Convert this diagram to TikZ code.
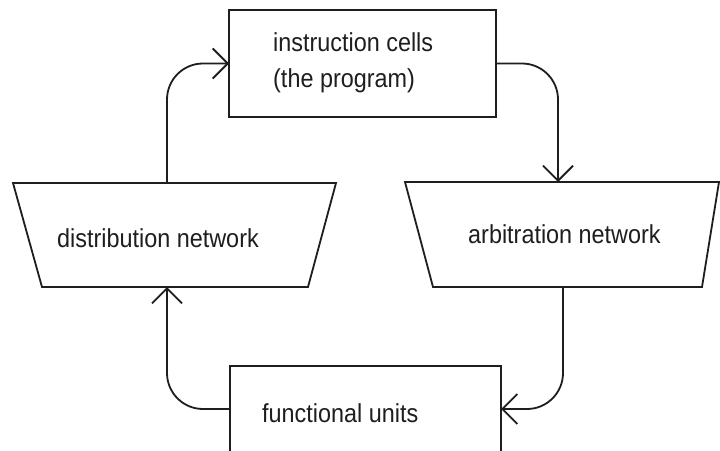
\documentclass[tikz,border=0pt]{standalone}
\usepackage{fontspec}
\setmainfont{Liberation Sans}[FakeStretch=0.9]
\usetikzlibrary{arrows.meta}
\definecolor{ink}{HTML}{1E1E1E}
\begin{document}
\begin{tikzpicture}[x=1pt,y=-1pt,
  box/.style={draw=ink, line width=1.8pt, rectangle, inner sep=0pt, outer sep=0pt},
  area/.style={rectangle, inner sep=0pt, outer sep=0pt},
  shapeline/.style={draw=ink, line width=1.8pt, line join=miter},
  conn/.style={draw=ink, line width=1.8pt, rounded corners=36pt, -{Straight Barb[length=15pt,width=30pt]}},
  txt/.style={text=ink, inner sep=0pt, font=\fontsize{26}{36}\selectfont}]
\fill[white] (0,0) rectangle (720,450);
\useasboundingbox (0,0) rectangle (720,450);
% blocks
\node[box, minimum width=267pt, minimum height=107pt] (cells) at (362.5,63.5) {};
\node[box, minimum width=271pt, minimum height=86pt] (units) at (365.5,409) {};
\node[area, minimum width=323pt, minimum height=104pt] (dist) at (174.5,235) {};
\node[area, minimum width=314pt, minimum height=105pt] (arb) at (562,234.5) {};
\draw[shapeline] (dist.north west) -- (dist.north east) -- ([xshift=-28pt]dist.south east) -- ([xshift=29pt]dist.south west) -- cycle;
\draw[shapeline] (arb.north west) -- (arb.north east) -- ([xshift=-17pt]arb.south east) -- ([xshift=28pt]arb.south west) -- cycle;
% texts
\node[txt, anchor=west, align=left] (cellsT) at (273,62.5) {instruction cells\\(the program)};
\node[txt, anchor=base west] (distT) at (57,247) {distribution network};
\node[txt, anchor=base west] (arbT) at (468,243) {arbitration network};
\node[txt, anchor=base west] (unitsT) at (262,422) {functional units};
% connectors
\draw[conn] ([xshift=-7.5pt]dist.north) |- (cells.west);
\draw[conn] (cells.east) -| ([xshift=-4pt]arb.north);
\draw[conn] ([xshift=1pt]arb.south) |- (units.east);
\draw[conn] (units.west) -| ([xshift=-7.5pt]dist.south);
\end{tikzpicture}
\end{document}
